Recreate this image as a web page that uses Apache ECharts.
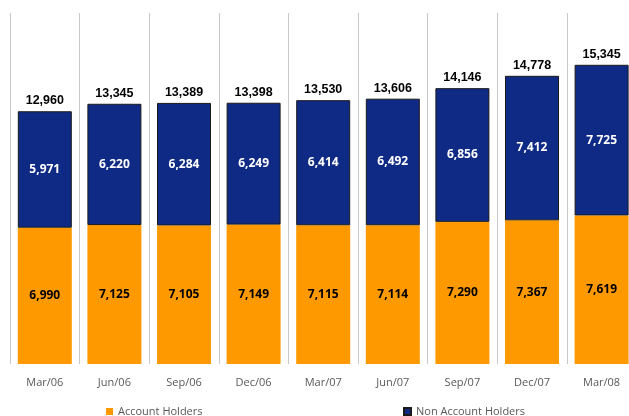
<!DOCTYPE html>
<html>
<head>
<meta charset="utf-8">
<script src="https://cdn.jsdelivr.net/npm/echarts@6/dist/echarts.min.js"></script>
<style>
  html, body { margin: 0; padding: 0; background: #fff; }
  #chart { width: 629px; height: 416px; }
</style>
</head>
<body>
<div id="chart"></div>
<script>
const quarters = ['Mar/06', 'Jun/06', 'Sep/06', 'Dec/06', 'Mar/07', 'Jun/07', 'Sep/07', 'Dec/07', 'Mar/08']
const accountHolders = [6990, 7125, 7105, 7149, 7115, 7114, 7290, 7367, 7619]
const nonAccountHolders = [5971, 6220, 6284, 6249, 6414, 6492, 6856, 7412, 7725]
const totals = [12960, 13345, 13389, 13398, 13530, 13606, 14146, 14778, 15345]

const fmt = (v) => v.toLocaleString('en-US')

const chart = echarts.init(document.getElementById('chart'))

const options = {
  animation: false,
  backgroundColor: '#fff',
  grid: {
    left: 10,
    top: 13,
    bottom: 52,
    width: 626.4,
    outerBoundsMode: 'none',
  },
  legend: [
    {
      data: ['Account Holders'],
      left: 106,
      top: 406,
      padding: 0,
      itemWidth: 7,
      itemHeight: 7,
      itemGap: 5,
      icon: 'rect',
      textStyle: { color: '#595959', fontSize: 11, fontFamily: 'Open Sans' },
    },
    {
      data: ['Non Account Holders'],
      left: 403,
      top: 406,
      padding: 0,
      itemWidth: 7,
      itemHeight: 7,
      itemGap: 5,
      icon: 'rect',
      textStyle: { color: '#595959', fontSize: 11, fontFamily: 'Open Sans' },
    },
  ],
  xAxis: {
    type: 'category',
    data: quarters,
    axisLine: { show: false },
    axisTick: { show: false },
    axisLabel: {
      color: '#595959',
      fontSize: 11,
      fontFamily: 'Open Sans',
      margin: 13,
    },
    splitLine: {
      show: true,
      interval: 0,
      lineStyle: { color: '#c8c8c8', width: 1 },
    },
  },
  yAxis: {
    type: 'value',
    min: 0,
    max: 18000,
    show: false,
    splitLine: { show: false },
  },
  series: [
    {
      name: 'Account Holders',
      type: 'bar',
      stack: 'all',
      barWidth: 54,
      data: accountHolders,
      itemStyle: { color: '#ff9900' },
      label: {
        show: true,
        position: 'inside',
        color: '#000',
        fontWeight: 'bold',
        fontSize: 12,
        fontFamily: 'Open Sans',
        formatter: (p) => fmt(p.value),
      },
    },
    {
      name: 'Non Account Holders',
      type: 'bar',
      stack: 'all',
      barWidth: 54,
      data: nonAccountHolders,
      itemStyle: { color: '#0f2a85', borderColor: '#1a1a1a', borderWidth: 1 },
      label: {
        show: true,
        position: 'inside',
        color: '#fff',
        fontWeight: 'bold',
        fontSize: 12,
        fontFamily: 'Open Sans',
        formatter: (p) => fmt(p.value),
      },
    },
    {
      name: 'Total',
      type: 'bar',
      stack: 'all',
      barWidth: 54,
      data: totals.map(() => 0),
      itemStyle: { color: 'transparent' },
      label: {
        show: true,
        position: 'top',
        distance: 4,
        color: '#000',
        fontWeight: 'bold',
        fontSize: 12.5,
        fontFamily: 'Liberation Sans',
        formatter: (p) => fmt(totals[p.dataIndex]),
      },
    },
  ],
}

chart.setOption(options)
window.addEventListener('resize', () => {
  chart.resize()
})
</script>
</body>
</html>
